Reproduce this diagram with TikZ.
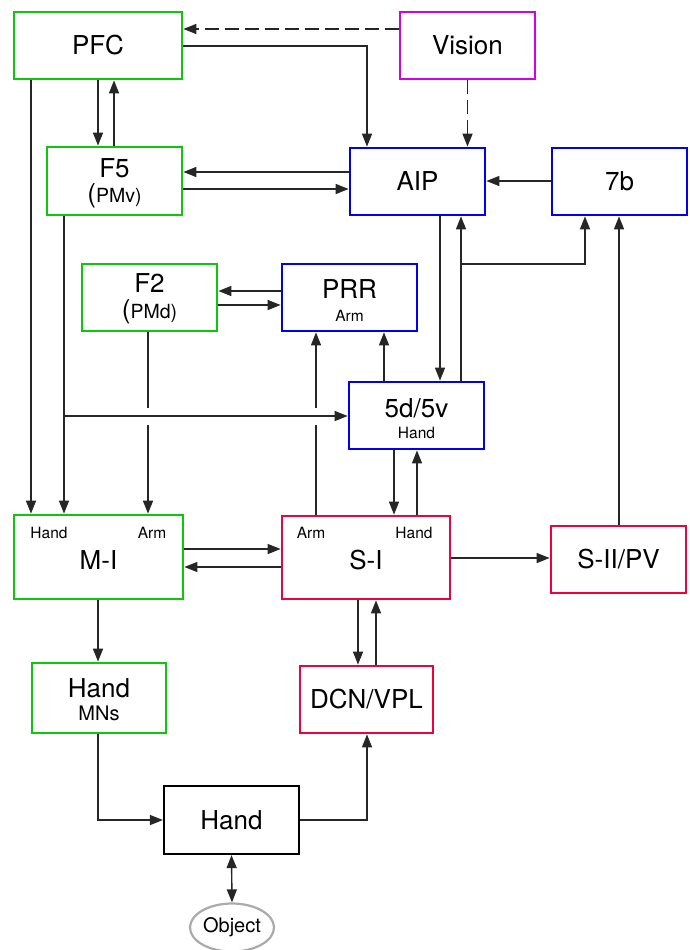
\documentclass[tikz,border=0pt]{standalone}
\usepackage{fontspec}
\setmainfont{TeX Gyre Heros}
\usetikzlibrary{arrows.meta,shapes.geometric}
\definecolor{cgreen}{RGB}{10,200,10}
\definecolor{cblue}{RGB}{0,0,245}
\definecolor{cmag}{RGB}{210,0,230}
\definecolor{cred}{RGB}{240,0,60}
\definecolor{cgrey}{RGB}{170,170,170}
\begin{document}
\begin{tikzpicture}[x=1pt,y=-1pt]
\tikzset{
 box/.style={draw, line width=2.7pt, minimum width=135pt, minimum height=67pt, inner sep=0pt, fill=white, font=\fontsize{26}{28}\selectfont},
 big/.style={font=\fontsize{26}{28}\selectfont, inner sep=0pt},
 small/.style={font=\fontsize{15.5}{17}\selectfont, inner sep=0pt},
 mid/.style={font=\fontsize{20}{22}\selectfont, inner sep=0pt},
 con/.style={line width=1.4pt, draw=black!85},
 arr/.style={con, -{Triangle[length=13pt,width=10pt]}},
 dsh/.style={dash pattern=on 14pt off 6pt},
}
\useasboundingbox[fill=white] (0,0) rectangle (690,950);

% boxes
\node[box, draw=cgreen, minimum width=168pt] (PFC) at (98,45.5) {PFC};
\node[box, draw=cmag] (Vision) at (467.5,45.5) {Vision};
\node[box, draw=cgreen, minimum height=68pt] (F5) at (114.5,181) {};
\node[box, draw=cblue] (AIP) at (417.5,181.5) {AIP};
\node[box, draw=cblue] (n7b) at (619.5,181.5) {7b};
\node[box, draw=cgreen] (F2) at (149.5,297.5) {};
\node[box, draw=cblue] (PRR) at (349.5,297.5) {};
\node[box, draw=cblue] (D5) at (416.5,415.5) {};
\node[box, draw=cgreen, minimum width=169pt, minimum height=84pt] (MI) at (98.5,557) {};
\node[box, draw=cred, minimum width=168pt, minimum height=83pt] (SI) at (366,557.5) {};
\node[box, draw=cred] (SII) at (618.5,559.5) {S-II/PV};
\node[box, draw=cgreen, minimum width=134pt, minimum height=70pt] (HMN) at (99,698) {};
\node[box, draw=cred, minimum width=133pt] (DCN) at (366.5,699.5) {DCN/VPL};
\node[box, draw=black, line width=2.2pt, minimum height=68pt] (Hand) at (231.5,820) {Hand};
\node[ellipse, draw=cgrey, line width=2.2pt, minimum width=84pt, minimum height=48pt, inner sep=0pt, font=\fontsize{20}{22}\selectfont] (Obj) at (232,927.5) {Object};

% texts in boxes
\node[big] (tF5) at (114.5,168) {F5};
\node[big] (tPMv) at (114.5,196) {(\fontsize{19.5}{21}\selectfont PMv)};
\node[big] (tF2) at (149.5,283) {F2};
\node[big] (tPMd) at (149.5,312) {(\fontsize{19.5}{21}\selectfont PMd)};
\node[big] (tPRR) at (349.5,289) {PRR};
\node[small] (tArm1) at (349.5,316) {Arm};
\node[big] (t5d) at (416.5,408) {5d/5v};
\node[small] (tHand1) at (416.5,433) {Hand};
\node[big] (tMI) at (98.5,560) {M-I};
\node[small] (tMIh) at (49,533) {Hand};
\node[small] (tMIa) at (152,533) {Arm};
\node[big] (tSI) at (366,560) {S-I};
\node[small] (tSIa) at (311,533) {Arm};
\node[small] (tSIh) at (414,533) {Hand};
\node[big] (tHMN) at (99,688) {Hand};
\node[mid] (tMNs) at (99,713) {MNs};

% junctions
\coordinate (j1) at (461,264);
\coordinate (j2) at (64,416);

% connectors
\draw[arr,dsh] (Vision.west |- 0,29) -- (PFC.east |- 0,29);
\draw[arr] (PFC.east |- 0,46) -| (367,0 |- AIP.north);
\draw[arr,dsh] (Vision.south) -- (Vision.south |- AIP.north);
\draw[arr] (98,0 |- PFC.south) -- (98,0 |- F5.north);
\draw[arr] (114,0 |- F5.north) -- (114,0 |- PFC.south);
\draw[arr] (AIP.west |- 0,172) -- (F5.east |- 0,172);
\draw[arr] (F5.east |- 0,189) -- (AIP.west |- 0,189);
\draw[arr] (n7b.west |- 0,181) -- (AIP.east |- 0,181);
\draw[arr] (440,0 |- AIP.south) -- (440,0 |- D5.north);
\draw[arr] (461,0 |- D5.north) -- (461,0 |- AIP.south);
\draw[arr] (j1) -| (585,0 |- n7b.south);
\draw[arr] (619,0 |- SII.north) -- (619,0 |- n7b.south);
\draw[arr] (PRR.west |- 0,291) -- (F2.east |- 0,291);
\draw[arr] (F2.east |- 0,305) -- (PRR.west |- 0,305);
\draw[arr] (384,0 |- D5.north) -- (384,0 |- PRR.south);
\draw[arr] (316,0 |- SI.north) -- (316,0 |- PRR.south);
\draw[arr] (148,0 |- F2.south) -- (148,0 |- MI.north);
\draw[arr] (64,0 |- F5.south) -- (64,0 |- MI.north);
\draw[arr] (31,0 |- PFC.south) -- (31,0 |- MI.north);
\draw[arr, preaction={draw=white, line width=17pt, shorten <=5pt, shorten >=5pt}] (j2) -- (D5.west |- j2);
\draw[arr] (394,0 |- D5.south) -- (394,0 |- SI.north);
\draw[arr] (417,0 |- SI.north) -- (417,0 |- D5.south);
\draw[arr] (MI.east |- 0,549) -- (SI.west |- 0,549);
\draw[arr] (SI.west |- 0,567) -- (MI.east |- 0,567);
\draw[arr] (SI.east |- 0,558) -- (SII.west |- 0,558);
\draw[arr] (98,0 |- MI.south) -- (98,0 |- HMN.north);
\draw[arr] (358,0 |- SI.south) -- (358,0 |- DCN.north);
\draw[arr] (376,0 |- DCN.north) -- (376,0 |- SI.south);
\draw[arr] (98,0 |- HMN.south) |- (Hand.west);
\draw[arr] (Hand.east) -| (367,0 |- DCN.south);
\draw[con, {Triangle[length=13pt,width=10pt]}-{Triangle[length=13pt,width=10pt]}] (Hand.south) -- (Obj.north);
\end{tikzpicture}
\end{document}
